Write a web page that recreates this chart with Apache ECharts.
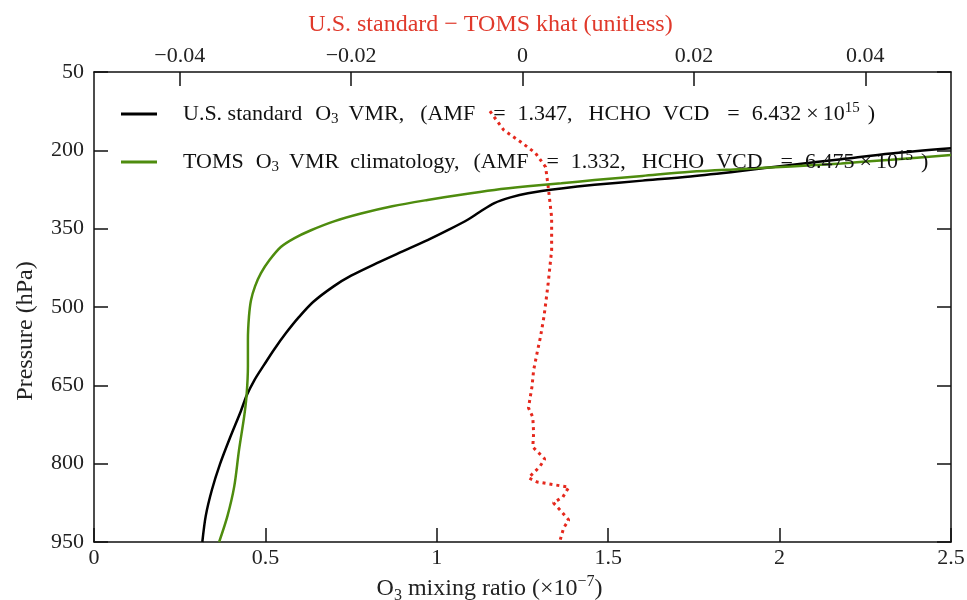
<!DOCTYPE html>
<html>
<head>
<meta charset="utf-8">
<script src="https://cdn.jsdelivr.net/npm/echarts@6/dist/echarts.min.js"></script>
<style>
html,body{margin:0;padding:0;background:#fff;}
#c{width:967px;height:600px;}
</style>
</head>
<body>
<div id="c"></div>
<script>
// Pressure levels (hPa) and O3 mixing ratio (x1e-7), U.S. standard profile
const usPressure = [950,900,850,800,750,700,670,640,610,580,550,520,490,460,440,416,395,372,352,333,318,301,290,282,273,266,258,250,240,228,217,206,196];
const usO3 = [0.316,0.326,0.344,0.368,0.397,0.428,0.445,0.468,0.497,0.527,0.560,0.597,0.640,0.700,0.750,0.825,0.895,0.973,1.035,1.090,1.125,1.168,1.215,1.266,1.363,1.460,1.600,1.740,1.880,2.033,2.180,2.325,2.500];

// TOMS climatology profile
const tomsPressure = [950,901,844,774,710,670,614,563,519,487,460,435,410,385,368,353,336,321,307,295,285,276,269,263,257,249,241,236,231,225,218,209];
const tomsO3 = [0.365,0.389,0.409,0.423,0.438,0.445,0.449,0.449,0.452,0.458,0.470,0.487,0.512,0.545,0.585,0.633,0.700,0.779,0.870,0.973,1.070,1.168,1.265,1.363,1.460,1.600,1.740,1.880,2.033,2.180,2.325,2.500];

// Scattering weight difference (U.S. standard - TOMS khat)
const khatPressure = [125,161,184,205,232,270,328,391,454,494,519,557,588,621,653,693,711,741,768,791,806,827,835,845,864,875,889,908,923,946,950];
const khatDiff = [-0.0038,-0.0022,-0.0002,0.0015,0.0027,0.0030,0.0034,0.0034,0.0030,0.0027,0.0025,0.0021,0.0017,0.0013,0.0011,0.0007,0.0012,0.0013,0.0012,0.0026,0.0020,0.0007,0.0017,0.0054,0.0047,0.0036,0.0044,0.0054,0.0048,0.0044,0.0044];

// Axis ticks
const bottomTicks = [0,0.5,1,1.5,2,2.5];
const topTicks = [-0.04,-0.02,0,0.02,0.04];
const pressureTicks = [50,200,350,500,650,800,950];

const FONT = 'Liberation Serif';
const zip = (xs, ps) => xs.map((x, i) => [x, ps[i]]);

// legend text pieces: [kind, text, space after (px)]; kind a=normal, s=subscript, p=superscript
const legendRows = {
  us: [['a','U.S. standard',13],['a','O',0],['s','3',10],['a','VMR,',16],['a','(AMF',18],['a','=',12],['a','1.347,',16],['a','HCHO',12],['a','VCD',18],['a','=',12],['a','6.432',5],['a','\u00d7',4],['a','10',0],['p','15',8],['a',')',0]],
  toms: [['a','TOMS',12],['a','O',0],['s','3',10],['a','VMR',11],['a','climatology,',14],['a','(AMF',18],['a','=',12],['a','1.332,',16],['a','HCHO',12],['a','VCD',18],['a','=',12],['a','6.475',5],['a','\u00d7',4],['a','10',0],['p','15',8],['a',')',0]]
};
const legendRich = {
  a: {fontFamily: FONT, fontSize: 22, color: '#111', lineHeight: 26},
  s: {fontFamily: FONT, fontSize: 15, color: '#111', lineHeight: 15, verticalAlign: 'bottom'},
  p: {fontFamily: FONT, fontSize: 15, color: '#111', lineHeight: 15, verticalAlign: 'top'}
};
const legendStrings = {};
Object.keys(legendRows).forEach(key => {
  let s = '';
  legendRows[key].forEach(tok => {
    s += '{' + tok[0] + '|' + tok[1] + '}';
    if (tok[2] > 0) {
      const g = 'g' + tok[2];
      legendRich[g] = {fontFamily: FONT, fontSize: 22, lineHeight: 26, width: tok[2]};
      s += '{' + g + '| }';
    }
  });
  legendStrings[key] = s;
});

const tickLabel = {fontFamily: FONT, fontSize: 22, color: '#222'};
const axisLineStyle = {show: true, onZero: false, lineStyle: {color: '#111', width: 1.5}};
const tickStyle = {color: '#111', width: 1.5};

const nameRich = {
  a: {fontFamily: FONT, fontSize: 24, color: '#222', lineHeight: 30},
  s: {fontFamily: FONT, fontSize: 16, color: '#222', lineHeight: 16, verticalAlign: 'bottom'},
  p: {fontFamily: FONT, fontSize: 16, color: '#222', lineHeight: 16, verticalAlign: 'top'}
};

const chart = echarts.init(document.getElementById('c'), null, {renderer: 'canvas'});
chart.setOption({
  animation: false,
  backgroundColor: '#fff',
  grid: {left: 94, right: 16, top: 72, bottom: 58, containLabel: false, outerBoundsMode: 'none'},
  legend: {
    orient: 'vertical',
    left: 121,
    top: 101,
    padding: 0,
    itemWidth: 36,
    itemHeight: 3,
    itemGap: 22,
    icon: 'rect',
    data: ['us', 'toms'],
    formatter: name => legendStrings[name],
    textStyle: {padding: [0, 0, 0, 21], rich: legendRich}
  },
  xAxis: [
    {
      type: 'value', position: 'bottom', min: 0, max: 2.5, interval: 0.5,
      axisLine: axisLineStyle,
      axisTick: {show: true, inside: true, length: 14, lineStyle: tickStyle},
      axisLabel: Object.assign({margin: 5, formatter: v => String(v)}, tickLabel),
      splitLine: {show: false},
      name: '{a|O}{s|3}{a| mixing ratio (\u00d710}{p|\u22127}{a|)}',
      nameLocation: 'middle', nameGap: 28,
      nameTextStyle: {padding: [0, 66, 0, 0], rich: nameRich}
    },
    {
      type: 'value', position: 'top', min: -0.05, max: 0.05,
      axisLine: axisLineStyle,
      axisTick: {show: true, inside: true, length: 14, customValues: topTicks, lineStyle: tickStyle},
      axisLabel: Object.assign({margin: 5, customValues: topTicks,
        formatter: v => (v < 0 ? '\u2212' + String(Math.abs(v)) : String(v))}, tickLabel),
      splitLine: {show: false},
      name: 'U.S. standard \u2212 TOMS khat (unitless)',
      nameLocation: 'middle', nameGap: 35,
      nameTextStyle: {fontFamily: FONT, fontSize: 24, color: '#e0392b', padding: [0, 64, 0, 0]}
    }
  ],
  yAxis: [
    {
      type: 'value', position: 'left', inverse: true, min: 50, max: 950,
      axisLine: axisLineStyle,
      axisTick: {show: true, inside: true, length: 14, customValues: pressureTicks, lineStyle: tickStyle},
      axisLabel: Object.assign({margin: 10, customValues: pressureTicks}, tickLabel),
      splitLine: {show: false},
      name: 'Pressure (hPa)',
      nameLocation: 'middle', nameGap: 56, nameRotate: 90,
      nameTextStyle: {fontFamily: FONT, fontSize: 24, color: '#222', padding: [0, 48, 0, 0]}
    },
    {
      type: 'value', position: 'right', inverse: true, min: 50, max: 950,
      axisLine: axisLineStyle,
      axisTick: {show: true, inside: true, length: 14, customValues: pressureTicks, lineStyle: tickStyle},
      axisLabel: {show: false},
      splitLine: {show: false}
    }
  ],
  series: [
    {
      name: 'us', type: 'line', xAxisIndex: 0, yAxisIndex: 0,
      data: zip(usO3, usPressure), symbol: 'none', smooth: 0.3, clip: true,
      lineStyle: {color: '#000', width: 2.5}, itemStyle: {color: '#000'}, z: 3
    },
    {
      name: 'toms', type: 'line', xAxisIndex: 0, yAxisIndex: 0,
      data: zip(tomsO3, tomsPressure), symbol: 'none', smooth: 0.3, clip: true,
      lineStyle: {color: '#4e8c0e', width: 2.5}, itemStyle: {color: '#4e8c0e'}, z: 3
    },
    {
      name: 'khat', type: 'line', xAxisIndex: 1, yAxisIndex: 0,
      data: zip(khatDiff, khatPressure), symbol: 'none', smooth: false, clip: true,
      lineStyle: {color: '#e5281d', width: 3, type: [3, 4], cap: 'butt'}, z: 2
    }
  ]
});
</script>
</body>
</html>
